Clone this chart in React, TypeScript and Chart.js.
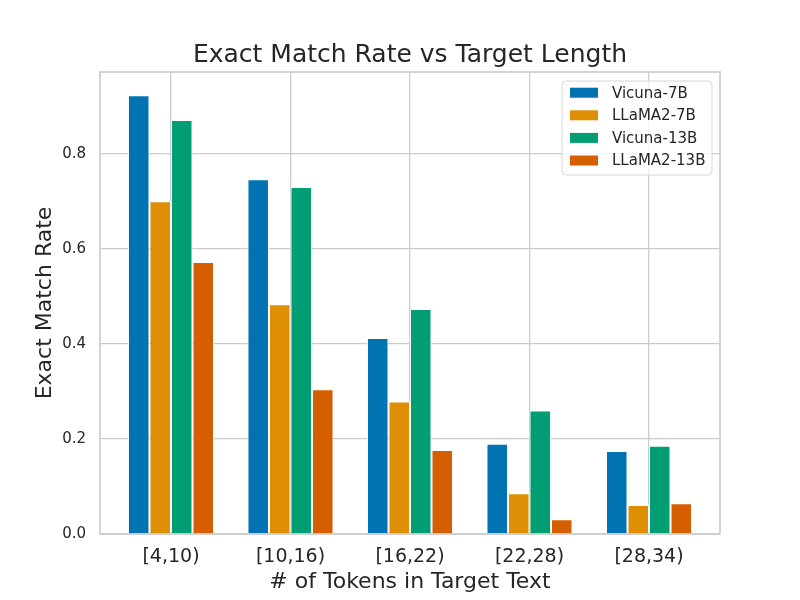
import { useEffect, useRef } from 'react'
import { Chart, registerables } from 'chart.js'

Chart.register(...registerables)

const BINS = ['[4,10)', '[10,16)', '[16,22)', '[22,28)', '[28,34)']
const MODELS = ['Vicuna-7B', 'LLaMA2-7B', 'Vicuna-13B', 'LLaMA2-13B']
const VICUNA_7B = [0.924, 0.747, 0.413, 0.19, 0.175]
const LLAMA2_7B = [0.701, 0.484, 0.279, 0.086, 0.061]
const VICUNA_13B = [0.872, 0.731, 0.474, 0.26, 0.186]
const LLAMA2_13B = [0.573, 0.305, 0.177, 0.031, 0.065]
const SERIES = [VICUNA_7B, LLAMA2_7B, VICUNA_13B, LLAMA2_13B]
const COLORS = ['#0173b2', '#de8f05', '#029e73', '#d55e00']

const TEXT = '#262626'
const GRID = '#cccccc'
const FONT = '"DejaVu Sans", sans-serif'

// axes frame like seaborn whitegrid (spines on all four sides)
const framePlugin = {
  id: 'frame',
  afterDatasetsDraw(chart: Chart) {
    const { ctx, chartArea: a } = chart
    ctx.save()
    ctx.strokeStyle = GRID
    ctx.lineWidth = 1.7
    ctx.strokeRect(a.left, a.top, a.right - a.left, a.bottom - a.top)
    ctx.restore()
  }
}

// matplotlib-style legend in the upper right of the plot
const legendBoxPlugin = {
  id: 'legendBox',
  afterDraw(chart: Chart) {
    const { ctx, chartArea: a } = chart
    const sets = chart.data.datasets
    const w = 150, rowH = 22.6, h = 94
    const x = a.right - 8 - w
    const y = a.top + 9
    ctx.save()
    ctx.beginPath()
    ctx.roundRect(x, y, w, h, 4)
    ctx.fillStyle = 'rgba(255,255,255,0.8)'
    ctx.fill()
    ctx.strokeStyle = '#d6d6d6'
    ctx.lineWidth = 1
    ctx.stroke()
    ctx.font = `15px ${FONT}`
    ctx.textBaseline = 'middle'
    ctx.textAlign = 'left'
    sets.forEach((ds, i) => {
      const cy = y + 11.7 + i * rowH
      ctx.fillStyle = ds.backgroundColor as string
      ctx.fillRect(x + 8, cy - 5, 28, 10)
      ctx.fillStyle = TEXT
      ctx.fillText(ds.label as string, x + 50, cy + 1)
    })
    ctx.restore()
  }
}

export default function App() {
  const canvasRef = useRef<HTMLCanvasElement>(null)
  const chartRef = useRef<Chart | null>(null)

  useEffect(() => {
    if (!canvasRef.current) return
    chartRef.current?.destroy()
    Chart.defaults.font.family = FONT
    Chart.defaults.color = TEXT

    chartRef.current = new Chart(canvasRef.current, {
      type: 'bar',
      data: {
        datasets: MODELS.map((name, i) => ({
          label: name,
          data: SERIES[i].map((v, j) => ({ x: j, y: v })),
          backgroundColor: COLORS[i],
          borderColor: 'rgba(255,255,255,0.85)',
          borderWidth: 1,
          categoryPercentage: 0.72,
          barPercentage: 1
        }))
      },
      options: {
        responsive: true,
        maintainAspectRatio: false,
        animation: false,
        layout: { padding: { left: 0, right: 80, top: 0, bottom: 0 } },
        plugins: {
          legend: { display: false },
          tooltip: { enabled: false },
          title: {
            display: true,
            text: 'Exact Match Rate vs Target Length',
            fullSize: false,
            color: TEXT,
            font: { size: 25, weight: 'normal' },
            padding: { top: 40, bottom: 2 }
          }
        },
        scales: {
          x: {
            type: 'linear',
            min: -0.594,
            max: 4.594,
            offset: false,
            afterFit: (s: any) => { s.height = 66 },
            border: { display: false },
            grid: { color: GRID, lineWidth: 1.3, drawTicks: false, offset: false },
            ticks: {
              stepSize: 1,
              includeBounds: false,
              padding: 12,
              font: { size: 19 },
              callback: (v: any) => BINS[v] ?? ''
            },
            title: {
              display: true,
              text: '# of Tokens in Target Text',
              font: { size: 22 },
              padding: { top: 0, bottom: 5 }
            }
          },
          y: {
            min: 0,
            max: 0.973,
            afterFit: (s: any) => { s.width = 100 },
            border: { display: false },
            grid: { color: GRID, lineWidth: 1.3, drawTicks: false },
            ticks: {
              stepSize: 0.2,
              includeBounds: false,
              padding: 14,
              font: { size: 15 },
              callback: (v: any) => Number(v).toFixed(1)
            },
            title: {
              display: true,
              text: 'Exact Match Rate',
              font: { size: 22 },
              padding: { top: 31.8, bottom: 0 }
            }
          }
        }
      },
      plugins: [framePlugin, legendBoxPlugin]
    })

    return () => { chartRef.current?.destroy() }
  }, [])

  return (
    <div style={{ position: 'fixed', left: 0, top: 0, width: 800, height: 600, background: '#fff' }}>
      <canvas ref={canvasRef} />
    </div>
  )
}
